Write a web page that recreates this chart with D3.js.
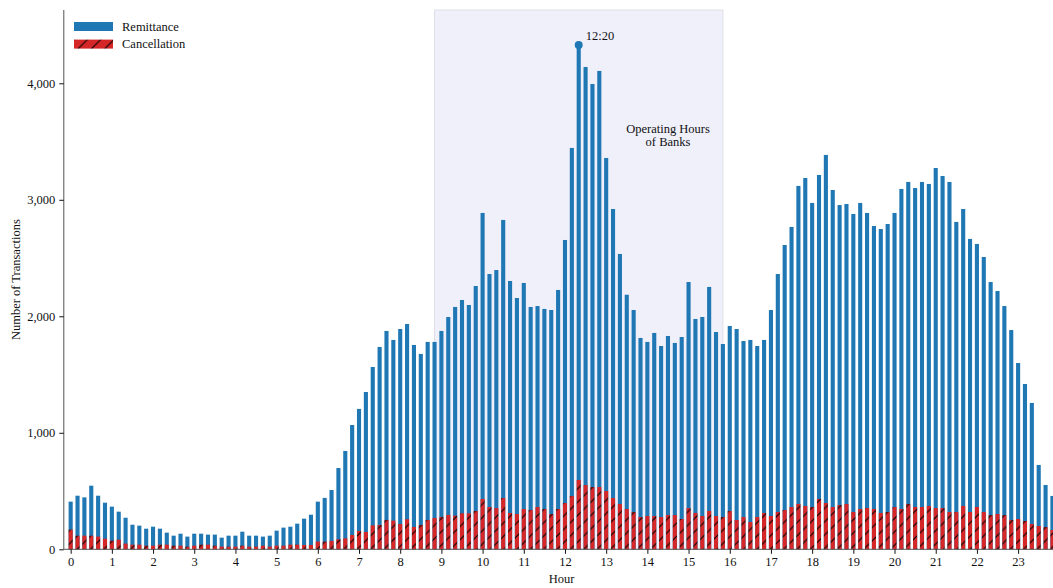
<!DOCTYPE html>
<html>
<head>
<meta charset="utf-8">
<script src="https://cdn.jsdelivr.net/npm/d3@7"></script>
<style>
  html, body { margin: 0; padding: 0; background: #fff; }
  svg { display: block; font-family: "Liberation Serif", "Times New Roman", serif; }
</style>
</head>
<body>
<svg id="chart" width="1053" height="588"></svg>
<script>
// Transactions per 10-minute slot over a day (144 slots, 00:00 .. 23:50)
const remittance = [
  409, 460, 446, 546, 460, 400,
  366, 323, 271, 211, 203, 177,
  194, 177, 143, 117, 134, 109,
  134, 134, 126, 126, 100, 117,
  117, 151, 117, 117, 109, 117,
  160, 186, 194, 220, 263, 297,
  409, 441, 509, 698, 844, 1067,
  1205, 1350, 1565, 1737, 1874, 1797,
  1891, 1934, 1754, 1677, 1780, 1780,
  1874, 1994, 2080, 2140, 2097, 2260,
  2887, 2363, 2397, 2827, 2303, 2157,
  2286, 2080, 2088, 2063, 2054, 2226,
  2655, 3445, 4329, 4140, 3994, 4106,
  3359, 2921, 2535, 2185, 2054, 1814,
  1780, 1857, 1745, 1831, 1771, 1822,
  2294, 1977, 1994, 2252, 1865, 1762,
  1917, 1891, 1788, 1797, 1745, 1797,
  2054, 2363, 2612, 2767, 3119, 3187,
  2973, 3213, 3385, 3084, 2955, 2964,
  2878, 2973, 2887, 2775, 2749, 2792,
  2887, 3093, 3153, 3101, 3153, 3136,
  3273, 3204, 3153, 2810, 2921, 2664,
  2621, 2509, 2294, 2217, 2088, 1882,
  1599, 1419, 1256, 724, 552, 458
];

const cancellation = [
  169, 117, 117, 117, 109, 91,
  74, 83, 49, 40, 40, 31,
  31, 40, 40, 31, 31, 23,
  31, 40, 40, 31, 23, 23,
  23, 31, 23, 23, 31, 23,
  31, 31, 40, 40, 37, 37,
  66, 66, 72, 86, 94, 123,
  157, 149, 206, 209, 252, 246,
  217, 258, 192, 209, 252, 269,
  278, 295, 289, 309, 309, 329,
  432, 363, 354, 440, 312, 303,
  346, 337, 363, 346, 303, 346,
  397, 457, 595, 552, 535, 535,
  500, 440, 389, 346, 320, 277,
  286, 286, 277, 294, 294, 260,
  354, 312, 286, 329, 286, 277,
  329, 251, 277, 234, 277, 312,
  286, 320, 337, 363, 389, 372,
  363, 432, 397, 363, 380, 389,
  320, 346, 354, 346, 312, 320,
  363, 346, 389, 363, 363, 372,
  354, 354, 320, 320, 372, 320,
  363, 320, 294, 303, 294, 251,
  260, 243, 217, 200, 191, 165
];

const hourTicks = d3.range(0, 24);
const yTicks = [0, 1000, 2000, 3000, 4000];
const seriesNames = ["Remittance", "Cancellation"];
const bankHours = [53, 95];            // shaded span, in 10-minute slot units
const bankLabel = ["Operating Hours", "of Banks"];
const slotsPerHour = 6;

const W = 1053, H = 588;
const svg = d3.select("#chart");

// slot index -> pixel; hour h sits at slot h*6
const x = d3.scaleLinear().domain([-1, 144]).range([63.8, 1059.3]);
const y = d3.scaleLinear().domain([0, 4629]).range([549.3, 10]);
const barW = 4.1;

const COL_BLUE = "#1f77b4", COL_RED = "#d62728";

// diagonal hatch for cancellation bars
const defs = svg.append("defs");
const p = 13.33;
const pat = defs.append("pattern")
  .attr("id", "hatch")
  .attr("patternUnits", "userSpaceOnUse")
  .attr("width", p).attr("height", p);
pat.append("rect").attr("width", p).attr("height", p).attr("fill", COL_RED);
pat.append("path")
  .attr("d", `M0,${p} L${p},0 M${-p/4},${p/4} L${p/4},${-p/4} M${p*3/4},${p*5/4} L${p*5/4},${p*3/4}`)
  .attr("stroke", "#000").attr("stroke-width", 1.1).attr("fill", "none");

// operating-hours span
svg.append("rect")
  .attr("x", x(bankHours[0])).attr("y", y.range()[1])
  .attr("width", x(bankHours[1]) - x(bankHours[0]))
  .attr("height", y(0) - y.range()[1])
  .attr("fill", "#f0f0fa")
  .attr("stroke", "#dedee8").attr("stroke-width", 1);

svg.append("text")
  .attr("x", 668).attr("y", 133)
  .attr("text-anchor", "middle").attr("font-size", 12.5).attr("fill", "#111")
  .selectAll("tspan").data(bankLabel).join("tspan")
  .attr("x", 668).attr("dy", (d, i) => i === 0 ? 0 : 13.2)
  .text(d => d);

// bars
const slots = d3.range(remittance.length);
svg.append("g").selectAll("rect").data(slots).join("rect")
  .attr("x", i => x(i) - barW / 2)
  .attr("y", i => y(remittance[i]))
  .attr("width", barW)
  .attr("height", i => y(0) - y(remittance[i]))
  .attr("fill", COL_BLUE);

svg.append("g").selectAll("rect").data(slots).join("rect")
  .attr("x", i => x(i) - barW / 2)
  .attr("y", i => y(cancellation[i]))
  .attr("width", barW)
  .attr("height", i => y(0) - y(cancellation[i]))
  .attr("fill", "url(#hatch)");

// peak marker and time label
const peak = d3.maxIndex(remittance);
const pad = n => String(n).padStart(2, "0");
const peakLabel = `${Math.floor(peak / slotsPerHour)}:${pad((peak % slotsPerHour) * 10)}`;
svg.append("circle")
  .attr("cx", x(peak)).attr("cy", y(remittance[peak])).attr("r", 4)
  .attr("fill", COL_BLUE);
svg.append("text")
  .attr("x", x(peak) + 7).attr("y", y(remittance[peak]) - 5)
  .attr("font-size", 12.5).attr("fill", "#111")
  .text(peakLabel);

// axes
const xAxis = d3.axisBottom(x)
  .tickValues(hourTicks.map(h => h * slotsPerHour))
  .tickFormat(v => String(v / slotsPerHour))
  .tickSize(4.5).tickPadding(3);
const gx = svg.append("g").attr("transform", `translate(0,${y(0)})`).call(xAxis);
gx.select(".domain").attr("d", `M${x.range()[0]},0H${W + 10}`).attr("stroke", "#555");
gx.selectAll(".tick line").attr("stroke", "#111");
gx.selectAll(".tick text").attr("font-size", 12.5).attr("font-family", "Liberation Serif").attr("fill", "#111");

const yAxis = d3.axisLeft(y)
  .tickValues(yTicks)
  .tickFormat(d3.format(","))
  .tickSize(4.5).tickPadding(4);
const gy = svg.append("g").attr("transform", `translate(${x.range()[0]},0)`).call(yAxis);
gy.select(".domain").attr("d", `M0,${y.range()[1]}V${y(0)}`).attr("stroke", "#555");
gy.selectAll(".tick line").attr("stroke", "#111");
gy.selectAll(".tick text").attr("font-size", 12.5).attr("font-family", "Liberation Serif").attr("fill", "#111");

// axis titles
svg.append("text")
  .attr("x", (x.range()[0] + x.range()[1]) / 2).attr("y", 583)
  .attr("text-anchor", "middle").attr("font-size", 12.5).attr("fill", "#111")
  .text("Hour");
svg.append("text")
  .attr("transform", `translate(20,${(y.range()[0] + y.range()[1]) / 2}) rotate(-90)`)
  .attr("text-anchor", "middle").attr("font-size", 12.5).attr("fill", "#111")
  .text("Number of Transactions");

// legend
const legend = svg.append("g").attr("transform", "translate(74,22)");
const fills = [COL_BLUE, "url(#hatch)"];
seriesNames.forEach((name, i) => {
  const g = legend.append("g").attr("transform", `translate(0,${i * 17.6})`);
  g.append("rect").attr("width", 39).attr("height", 9).attr("fill", fills[i]);
  g.append("text").attr("x", 48).attr("y", 8.5)
    .attr("font-size", 12.5).attr("fill", "#111").text(name);
});
</script>
</body>
</html>
